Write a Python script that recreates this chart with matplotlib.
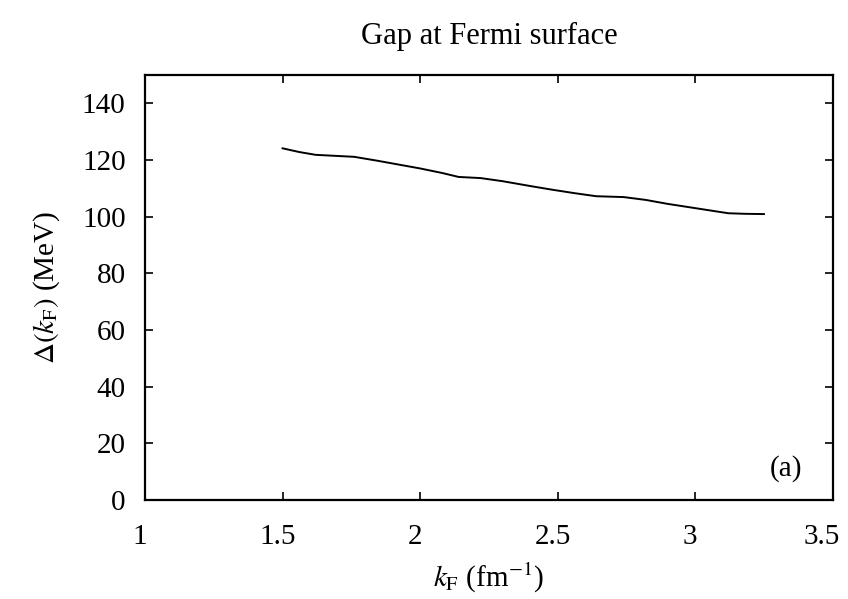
import matplotlib
matplotlib.use("Agg")
import matplotlib.pyplot as plt
from matplotlib.transforms import ScaledTranslation

plt.rcParams["font.family"] = ["Liberation Serif", "DejaVu Serif"]
plt.rcParams["mathtext.fontset"] = "stix"

# gap at the Fermi surface
k_f = [1.50, 1.56, 1.62, 1.68, 1.76, 1.84, 1.92, 2.00, 2.08, 2.14, 2.22, 2.30,
       2.40, 2.48, 2.56, 2.64, 2.74, 2.82, 2.90, 2.98, 3.06, 3.12, 3.18, 3.25]
gap = [124.1, 122.8, 121.8, 121.5, 121.1, 119.8, 118.4, 117.0, 115.4, 114.0, 113.6, 112.5,
       110.8, 109.5, 108.3, 107.2, 106.9, 105.9, 104.5, 103.3, 102.1, 101.2, 101.0, 100.9]

x_ticks = [1, 1.5, 2, 2.5, 3, 3.5]
x_tick_labels = ["1", "1.5", "2", "2.5", "3", "3.5"]
y_ticks = [0, 20, 40, 60, 80, 100, 120, 140]

fig = plt.figure(figsize=(8.48, 5.99), dpi=100)
ax = fig.add_axes([0.171, 0.165, 0.811, 0.710])

ax.plot(k_f, gap, color="black", lw=1.4)

ax.set_xlim(1, 3.5)
ax.set_ylim(0, 150)
ax.set_xticks(x_ticks)
ax.set_xticklabels(x_tick_labels)
ax.set_yticks(y_ticks)
ax.tick_params(direction="in", top=True, right=True, length=6, width=1.2,
               labelsize=21)
ax.tick_params(axis="x", pad=17)
ax.tick_params(axis="y", pad=14)
for s in ax.spines.values():
    s.set_linewidth(1.6)

# labels in the original sit a little left of their ticks; the last one most
for i, lab in enumerate(ax.get_xticklabels()):
    dx = -11 if i == len(x_ticks) - 1 else -5
    lab.set_transform(lab.get_transform() + ScaledTranslation(dx / 100, 0, fig.dpi_scale_trans))

ax.set_xlabel(r"$k_{\rm F}$ (fm$^{-1}$)", fontsize=21, labelpad=8)
ax.set_ylabel(r"$\mathit{\Delta}(k_{\rm F})$ (MeV)", fontsize=21, labelpad=14)
ax.set_title("Gap at Fermi surface", fontsize=22, pad=22)
ax.text(3.39, 11, "(a)", fontsize=21, ha="right", va="center")

fig.savefig("out.png", dpi=100)
